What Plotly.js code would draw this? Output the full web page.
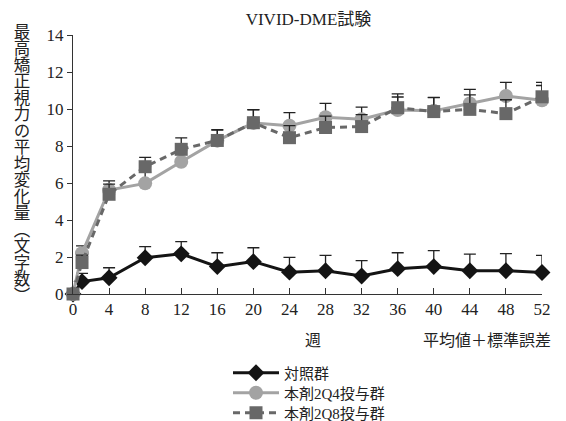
<!DOCTYPE html>
<html>
<head>
<meta charset="utf-8">
<script src="https://cdn.plot.ly/plotly-3.0.1.min.js"></script>
<style>html,body{margin:0;padding:0;background:#fff;}#chart{width:566px;height:421px;}</style>
</head>
<body>
<div id="chart"></div>
<script>
const weeks = [0, 1, 4, 8, 12, 16, 20, 24, 28, 32, 36, 40, 44, 48, 52];
const controlMean = [0, 0.67, 0.88, 1.96, 2.17, 1.48, 1.75, 1.18, 1.26, 0.97, 1.37, 1.48, 1.26, 1.26, 1.16];
const controlSE   = [0, 0.45, 0.54, 0.6, 0.66, 0.75, 0.75, 0.8, 0.83, 0.83, 0.86, 0.86, 0.9, 0.92, 0.93];
const q4Mean = [0, 2.2, 5.62, 5.98, 7.15, 8.29, 9.25, 9.1, 9.55, 9.45, 9.95, 9.9, 10.3, 10.7, 10.47];
const q4SE   = [0, 0.4, 0.5, 0.6, 0.6, 0.6, 0.72, 0.7, 0.75, 0.65, 0.7, 0.73, 0.76, 0.74, 0.8];
const q8Mean = [0, 1.7, 5.39, 6.88, 7.82, 8.3, 9.26, 8.45, 9.0, 9.05, 10.07, 9.86, 9.98, 9.75, 10.66];
const q8SE   = [0, 0.4, 0.55, 0.5, 0.62, 0.56, 0.7, 0.65, 0.62, 0.65, 0.75, 0.75, 0.78, 0.75, 0.78];
const seriesNames = ['対照群', '本剤2Q4投与群', '本剤2Q8投与群'];
const xTicks = [0, 4, 8, 12, 16, 20, 24, 28, 32, 36, 40, 44, 48, 52];
const titleText = 'VIVID-DME試験';
const yTitle = '最高矯正視力の平均変化量（文字数）';
const xTitle = '週';
const noteText = '平均値＋標準誤差';

const FONT = '"Liberation Serif", "Noto Sans CJK JP", serif';
const TXT = '#222';

function err(arr) {
  return {type: 'data', array: arr, arrayminus: arr.map(() => 0), symmetric: false,
          color: '#222', thickness: 1.3, width: 6};
}

const traces = [
  {x: weeks, y: controlMean, name: seriesNames[0], mode: 'lines+markers', type: 'scatter',
   line: {color: '#141414', width: 3}, marker: {symbol: 'diamond', size: 13, color: '#141414'},
   error_y: err(controlSE), cliponaxis: false, legend: 'legend'},
  {x: weeks, y: q4Mean, name: seriesNames[1], mode: 'lines+markers', type: 'scatter',
   line: {color: '#a3a3a3', width: 3}, marker: {symbol: 'circle', size: 14, color: '#a3a3a3'},
   error_y: err(q4SE), cliponaxis: false, legend: 'legend2'},
  {x: weeks, y: q8Mean, name: seriesNames[2], mode: 'lines+markers', type: 'scatter',
   line: {color: '#686868', width: 3, dash: '7px,5px'}, marker: {symbol: 'square', size: 13, color: '#686868'},
   error_y: err(q8SE), cliponaxis: false, legend: 'legend3'}
];

const plotTop = 35, plotBottom = 294, plotLeft = 73, plotRight = 542;
const ph = plotBottom - plotTop, pw = plotRight - plotLeft;
const px2x = p => (p - plotLeft) / pw;
const py2y = p => (plotBottom - p) / ph;

const annotations = [
  {text: yTitle, xref: 'paper', yref: 'paper', x: px2x(22), y: py2y(164),
   xanchor: 'center', yanchor: 'middle', showarrow: false,
   font: {family: '"Noto Sans CJK JP", sans-serif', size: 16.5, color: TXT}},
  {text: xTitle, xref: 'paper', yref: 'paper', x: px2x(313), y: py2y(340),
   xanchor: 'center', yanchor: 'middle', showarrow: false,
   font: {family: FONT, size: 16, color: TXT}},
  {text: noteText, xref: 'paper', yref: 'paper', x: px2x(553), y: py2y(340),
   xanchor: 'right', yanchor: 'middle', showarrow: false,
   font: {family: FONT, size: 16, color: TXT}}
];

function legendAt(rowY) {
  return {x: px2x(228), xanchor: 'left', y: py2y(rowY), yanchor: 'middle',
          font: {family: FONT, size: 15, color: TXT}, itemwidth: 46,
          bgcolor: 'rgba(0,0,0,0)', borderwidth: 0};
}

const layout = {
  width: 566, height: 421,
  margin: {l: plotLeft, r: 566 - plotRight, t: plotTop, b: 421 - plotBottom, autoexpand: false},
  paper_bgcolor: '#fff', plot_bgcolor: '#fff',
  title: {text: titleText, font: {family: FONT, size: 17, color: TXT},
          x: 0.545, xanchor: 'center', y: 0.955, yanchor: 'middle'},
  xaxis: {range: [0, 52], tickvals: xTicks, ticktext: xTicks.map(String),
          showgrid: false, zeroline: false, showline: true, linecolor: '#333', linewidth: 1,
          ticks: 'inside', ticklen: 6, tickcolor: '#333',
          tickfont: {family: FONT, size: 17, color: TXT}},
  yaxis: {range: [0, 14], dtick: 2, showgrid: false, zeroline: false, showline: true,
          linecolor: '#333', linewidth: 1, ticks: 'outside', ticklen: 5, tickcolor: '#333',
          tickfont: {family: FONT, size: 17, color: TXT}},
  showlegend: true,
  legend: legendAt(373),
  legend2: legendAt(393),
  legend3: legendAt(413),
  annotations: annotations
};

Plotly.newPlot('chart', traces, layout, {displayModeBar: false, staticPlot: true}).then(gd => {
  // Draw the y-axis title in Japanese vertical writing (top to bottom)
  const el = gd.querySelector('.annotation[data-index="0"] text.annotation-text');
  if (!el) return;
  el.style.writingMode = 'vertical-rl';
  el.style.textOrientation = 'mixed';
  el.setAttribute('text-anchor', 'start');
  const host = gd.getBoundingClientRect();
  const r = el.getBoundingClientRect();
  const dx = 22 - (r.left - host.left + r.width / 2);
  const dy = 23 - (r.top - host.top);
  el.setAttribute('transform', 'translate(' + dx + ',' + dy + ')');
});
</script>
</body>
</html>
